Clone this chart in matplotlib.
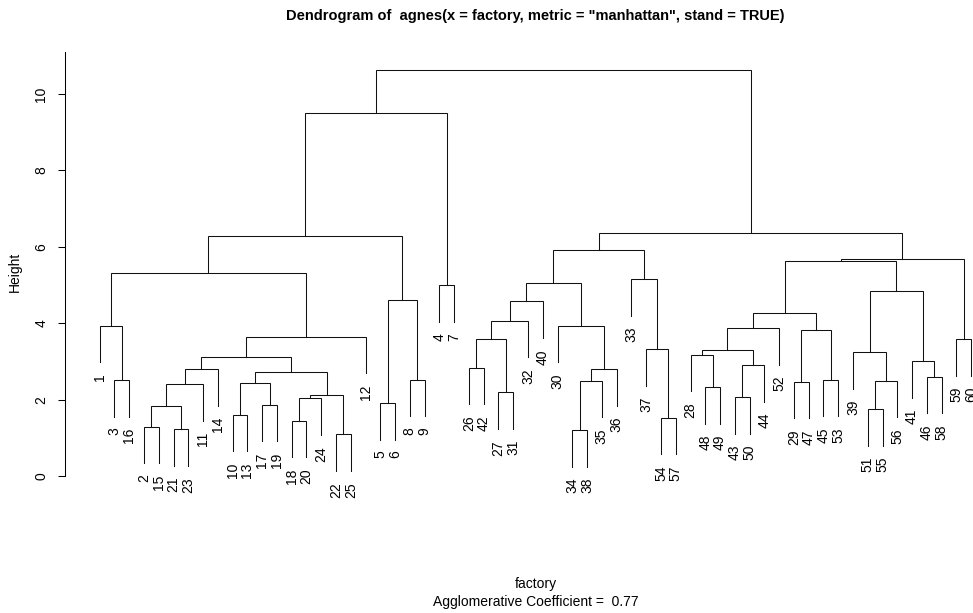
#!/usr/bin/env python3
"""agnes dendrogram (factory data, manhattan, standardised) — R plot.agnes look-alike."""
import matplotlib
matplotlib.use("Agg")
import matplotlib.pyplot as plt
from matplotlib.transforms import offset_copy

# ── data: R-style merge matrix (negative = leaf id, positive = earlier merge row) ──
MERGE_LEFT = [-22, -34, -21, -2, -18, -54, -10, -51, 4, -17,
              -5, 5, -43, 12, -27, -48, 9, 7, -29, 2,
              8, -3, -8, -45, -46, 18, 17, 20, -26, 13,
              -41, 27, -28, -39, 33, -37, 29, -59, 32, 19,
              35, -1, -30, -4, 37, 45, 11, 41, 34, 46,
              -33, 42, 48, 53, 50, 52, 55, 56, 58]
MERGE_RIGHT = [-25, -38, -23, -15, -20, -57, -13, -55, 3, -19,
               -6, -24, -50, 1, -31, -49, -11, 10, -47, -35,
               -56, -16, -9, -53, -58, 14, -14, -36, -42, -44,
               25, 26, 16, 21, 30, 6, 15, -60, -12, 24,
               -52, 22, 28, -7, -32, -40, 23, 40, 31, 43,
               36, 39, 49, 38, 51, 47, 54, 44, 57]
MERGE_HEIGHT = [1.09, 1.20, 1.22, 1.29, 1.45, 1.53, 1.60, 1.75, 1.83, 1.86,
                1.91, 2.03, 2.06, 2.11, 2.19, 2.32, 2.40, 2.44, 2.47, 2.50,
                2.50, 2.51, 2.52, 2.52, 2.60, 2.72, 2.80, 2.80, 2.83, 2.90,
                3.00, 3.11, 3.18, 3.24, 3.29, 3.32, 3.58, 3.58, 3.65, 3.82,
                3.87, 3.93, 3.93, 4.99, 4.06, 4.57, 4.62, 4.28, 4.84, 5.06,
                5.15, 5.31, 5.64, 5.69, 5.92, 6.28, 6.35, 9.49, 10.64]
Y_TICKS = [0, 2, 4, 6, 8, 10]
TITLE = 'Dendrogram of  agnes(x = factory, metric = "manhattan", stand = TRUE)'
XLAB = "factory"
SUB = "Agglomerative Coefficient =  0.77"

REGULAR = ["Liberation Sans", "DejaVu Sans"]
NARROW = ["Liberation Sans Narrow", "Liberation Sans", "DejaVu Sans"]
plt.rcParams["font.family"] = REGULAR

# ── leaf order and node positions ──────────────────────────────────────────────
def leaves_of(ref):
    if ref < 0:
        return [-ref]
    i = ref - 1
    return leaves_of(MERGE_LEFT[i]) + leaves_of(MERGE_RIGHT[i])

order = leaves_of(len(MERGE_HEIGHT))
n = len(order)
leaf_x = {lab: k + 1 for k, lab in enumerate(order)}
hang = 0.1 * (max(MERGE_HEIGHT) - min(MERGE_HEIGHT))

node_x = []
for l, r in zip(MERGE_LEFT, MERGE_RIGHT):
    xl = leaf_x[-l] if l < 0 else node_x[l - 1]
    xr = leaf_x[-r] if r < 0 else node_x[r - 1]
    node_x.append((xl + xr) / 2)

# ── figure / axes layout in pixels (973 x 613) ────────────────────────────────
W, H = 973, 613
fig = plt.figure(figsize=(W / 100, H / 100), dpi=100)

px_x1, px_per_x = 99.7, 14.77          # leaf 1 position, spacing
px_y0, px_per_y = 476.0, 38.2          # height 0 position, px per unit
xlo, xhi = 1 - 0.04 * (n - 1), n + 0.04 * (n - 1)
ylo, yhi = -0.5, 11.1
left = px_x1 + (xlo - 1) * px_per_x
right = px_x1 + (xhi - 1) * px_per_x
top = px_y0 - yhi * px_per_y
bottom = px_y0 - ylo * px_per_y
ax = fig.add_axes([left / W, 1 - bottom / H, (right - left) / W, (bottom - top) / H])
ax.set_xlim(xlo, xhi)
ax.set_ylim(ylo, yhi)

lw = 0.75
lab_trans = offset_copy(ax.transData, fig=fig, x=0, y=-8.0, units="points")
for i, (l, r, h) in enumerate(zip(MERGE_LEFT, MERGE_RIGHT, MERGE_HEIGHT)):
    pts = []
    for ref in (l, r):
        if ref < 0:
            x, y = leaf_x[-ref], h - hang
            ax.text(x, y, str(-ref), rotation=90, ha="center", va="top",
                    fontsize=10, transform=lab_trans)
        else:
            x, y = node_x[ref - 1], MERGE_HEIGHT[ref - 1]
        pts.append((x, y))
    (xa, ya), (xb, yb) = pts
    ax.plot([xa, xa, xb, xb], [ya, h, h, yb], color="#111111", lw=lw,
            solid_joinstyle="miter", clip_on=False)

for s in ("top", "right", "bottom"):
    ax.spines[s].set_visible(False)
ax.spines["left"].set_bounds(0, yhi)
ax.spines["left"].set_linewidth(lw)
ax.set_xticks([])
ax.set_yticks(Y_TICKS)
ax.tick_params(axis="y", length=5, width=lw, pad=7, labelsize=10)
for t in ax.get_yticklabels():
    t.set_rotation(90)
    t.set_va("center")
    t.set_ha("right")

cx = (left + right) / 2 / W
fig.text(15 / W, 1 - 272 / H, "Height", rotation=90, ha="center", va="center", fontsize=10)
fig.text(cx, 1 - 16 / H, TITLE, ha="center", va="center", fontsize=10.5,
         fontweight="bold", family=NARROW)
fig.text(cx, 1 - 584 / H, XLAB, ha="center", va="center", fontsize=10, family=NARROW)
fig.text(cx, 1 - 602 / H, SUB, ha="center", va="center", fontsize=10, family=NARROW)

fig.savefig("out.png", dpi=100)
